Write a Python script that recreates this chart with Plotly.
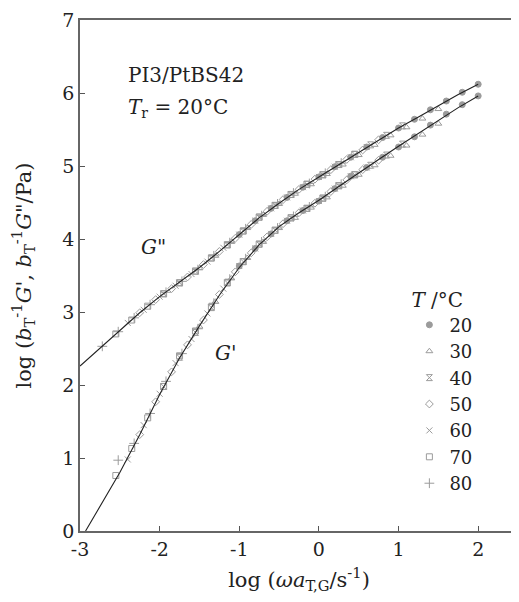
import plotly.graph_objects as go

# ---------------- data ----------------
temps = ["20", "30", "40", "50", "60", "70", "80"]

x20 = [-1.0, -0.8, -0.6, -0.4, -0.2, 0.0, 0.2, 0.4, 0.6, 0.8, 1.0, 1.2, 1.4, 1.6, 1.8, 2.0]
g2_20 = [4.06, 4.25, 4.42, 4.57, 4.71, 4.85, 4.99, 5.12, 5.26, 5.39, 5.52, 5.64, 5.77, 5.89, 6.01, 6.12]
g1_20 = [3.63, 3.87, 4.07, 4.25, 4.39, 4.52, 4.69, 4.86, 4.98, 5.12, 5.26, 5.40, 5.56, 5.71, 5.84, 5.96]

x30 = [-1.5, -1.3, -1.1, -0.9, -0.7, -0.5, -0.3, -0.1, 0.1, 0.3, 0.5, 0.7, 0.9, 1.1, 1.3, 1.5]
g2_30 = [3.60, 3.77, 3.96, 4.15, 4.33, 4.48, 4.62, 4.75, 4.89, 5.02, 5.15, 5.29, 5.42, 5.53, 5.65, 5.78]
g1_30 = [2.80, 3.14, 3.46, 3.74, 3.96, 4.15, 4.29, 4.43, 4.57, 4.73, 4.88, 5.01, 5.14, 5.28, 5.43, 5.58]

x40 = [-1.95, -1.75, -1.55, -1.35, -1.15, -0.95, -0.75, -0.55, -0.35, -0.15, 0.05, 0.25, 0.45, 0.65, 0.85, 1.05]
g2_40 = [3.25, 3.40, 3.56, 3.74, 3.92, 4.11, 4.30, 4.46, 4.61, 4.75, 4.88, 5.02, 5.16, 5.29, 5.42, 5.55]
g1_40 = [1.98, 2.38, 2.72, 3.06, 3.40, 3.69, 3.93, 4.12, 4.29, 4.42, 4.56, 4.73, 4.88, 5.01, 5.15, 5.30]

x50 = [-2.25, -2.05, -1.85, -1.65, -1.45, -1.25, -1.05, -0.85, -0.65, -0.45, -0.25, -0.05, 0.15, 0.35, 0.55, 0.75]
g2_50 = [2.99, 3.17, 3.32, 3.48, 3.65, 3.83, 4.01, 4.20, 4.38, 4.54, 4.68, 4.82, 4.95, 5.09, 5.22, 5.36]
g1_50 = [1.32, 1.77, 2.18, 2.55, 2.89, 3.24, 3.55, 3.81, 4.03, 4.21, 4.36, 4.49, 4.65, 4.81, 4.95, 5.08]

x60 = [-2.4, -2.2, -2.0, -1.8, -1.6, -1.4, -1.2, -1.0, -0.8, -0.6, -0.4, -0.2, 0.0, 0.2, 0.4, 0.6]
g2_60 = [2.85, 3.03, 3.21, 3.36, 3.52, 3.69, 3.88, 4.06, 4.25, 4.42, 4.57, 4.71, 4.85, 4.99, 5.12, 5.26]
g1_60 = [0.98, 1.45, 1.88, 2.30, 2.63, 2.98, 3.32, 3.63, 3.87, 4.07, 4.25, 4.39, 4.52, 4.69, 4.86, 4.98]

x70 = [-2.55, -2.35, -2.15, -1.95, -1.75, -1.55, -1.35, -1.15, -0.95, -0.75, -0.55, -0.35, -0.15, 0.05, 0.25, 0.45]
g2_70 = [2.70, 2.89, 3.08, 3.25, 3.40, 3.56, 3.74, 3.92, 4.11, 4.30, 4.46, 4.61, 4.75, 4.88, 5.02, 5.16]
g1_70 = [0.76, 1.13, 1.55, 1.98, 2.40, 2.74, 3.07, 3.40, 3.69, 3.93, 4.12, 4.29, 4.42, 4.56, 4.73, 4.88]

x80 = [-2.72, -2.52, -2.32, -2.12, -1.92, -1.72, -1.52, -1.32, -1.12, -0.92, -0.72, -0.52, -0.32, -0.12, 0.08, 0.28]
g2_80 = [2.53, 2.73, 2.92, 3.10, 3.27, 3.42, 3.58, 3.77, 3.95, 4.14, 4.32, 4.48, 4.63, 4.76, 4.90, 5.04]
g1_80 = [None, 0.97, 1.20, 1.61, 2.05, 2.43, 2.77, 3.12, 3.45, 3.73, 3.96, 4.15, 4.31, 4.44, 4.58, 4.75]

# master-curve fit lines
fit2_x = [-3.0, -2.75, -2.5, -2.25, -2.0, -1.75, -1.5, -1.25, -1.0, -0.75, -0.5, -0.25, 0.0,
          0.25, 0.5, 0.75, 1.0, 1.25, 1.5, 1.75, 2.0]
fit2_y = [2.26, 2.50, 2.75, 2.99, 3.21, 3.41, 3.61, 3.83, 4.06, 4.29, 4.49, 4.68, 4.85,
          5.02, 5.19, 5.36, 5.52, 5.67, 5.83, 5.98, 6.12]
fit1_x = [-2.93, -2.75, -2.5, -2.25, -2.0, -1.75, -1.5, -1.25, -1.0, -0.75, -0.5, -0.25, 0.0,
          0.25, 0.5, 0.75, 1.0, 1.25, 1.5, 1.75, 2.0]
fit1_y = [0.00, 0.33, 0.80, 1.32, 1.87, 2.37, 2.81, 3.23, 3.61, 3.92, 4.17, 4.36, 4.53,
          4.72, 4.91, 5.09, 5.27, 5.45, 5.63, 5.80, 5.96]

xticks = [-3, -2, -1, 0, 1, 2]
xticklabels = ["-3", "-2", "-1", "0", "1", "2"]
yticks = [0, 1, 2, 3, 4, 5, 6, 7]

# ---------------- figure ----------------
FONT = "DejaVu Serif, Liberation Serif, serif"
GRAY = "#9b9b9b"
symbols = ["circle", "triangle-up-open", "hourglass-open", "diamond-open",
           "x-thin-open", "square-open", "cross-thin-open"]
sizes = [6, 6, 6, 6, 6, 6, 7]
series = [(x20, g1_20, g2_20), (x30, g1_30, g2_30), (x40, g1_40, g2_40),
          (x50, g1_50, g2_50), (x60, g1_60, g2_60), (x70, g1_70, g2_70),
          (x80, g1_80, g2_80)]

fig = go.Figure()

for i, (t, (xs, g1, g2)) in enumerate(zip(temps, series)):
    mk = dict(symbol=symbols[i], size=sizes[i], color=GRAY,
              line=dict(color=GRAY, width=1))
    fig.add_trace(go.Scatter(x=xs, y=g2, mode="markers", marker=mk, name=t,
                             legendgroup=t, showlegend=True))
    fig.add_trace(go.Scatter(x=xs, y=g1, mode="markers", marker=mk, name=t,
                             legendgroup=t, showlegend=False))

fig.add_trace(go.Scatter(x=fit2_x, y=fit2_y, mode="lines", line=dict(color="#222", width=1.1),
                         showlegend=False))
fig.add_trace(go.Scatter(x=fit1_x, y=fit1_y, mode="lines", line=dict(color="#222", width=1.1),
                         showlegend=False))

axis_common = dict(showgrid=False, zeroline=False, ticks="inside", ticklen=5,
                   tickcolor="#555", showline=True, linecolor="#666", linewidth=1.5,
                   mirror=True, automargin=False, ticklabeloverflow="allow",
                   tickfont=dict(family=FONT, size=19, color="#222"))

fig.update_xaxes(range=[-3, 2.5], tickvals=xticks, ticktext=xticklabels,
                 title=dict(text="log (<i>ωa</i><sub>T,G</sub>/s<sup>-1</sup>)",
                            font=dict(family=FONT, size=21, color="#222"), standoff=16),
                 **axis_common)
fig.update_yaxes(range=[0, 7], tickvals=yticks,
                 title=dict(text="log (<i>b</i><sub>T</sub><sup>-1</sup><i>G</i>', "
                                 "<i>b</i><sub>T</sub><sup>-1</sup><i>G</i>\"/Pa)",
                            font=dict(family=FONT, size=21, color="#222"), standoff=30),
                 **axis_common)

txt = dict(family=FONT, size=20, color="#222")
fig.add_annotation(text="PI3/PtBS42", xref="paper", yref="paper", x=0.105, y=0.893,
                   xanchor="left", yanchor="middle", showarrow=False, font=txt)
fig.add_annotation(text="<i>T</i><sub>r</sub> = 20°C", xref="paper", yref="paper",
                   x=0.105, y=0.827, xanchor="left", yanchor="middle", showarrow=False, font=txt)
fig.add_annotation(text="<i>G</i>\"", xref="paper", yref="paper", x=0.167, y=0.555,
                   xanchor="center", yanchor="middle", showarrow=False, font=txt)
fig.add_annotation(text="<i>G</i>'", xref="paper", yref="paper", x=0.332, y=0.348,
                   xanchor="center", yanchor="middle", showarrow=False, font=txt)

# page body keeps its default 8px margin, so the figure is sized to fit the 519x602 window
fig.update_layout(
    width=511, height=586,
    margin=dict(l=72, r=1, t=12, b=63),
    paper_bgcolor="white", plot_bgcolor="white",
    font=dict(family=FONT, color="#222"),
    legend=dict(x=0.752, y=0.49, xanchor="left", yanchor="top",
                bgcolor="rgba(0,0,0,0)", itemwidth=30,
                font=dict(family=FONT, size=18, color="#222"),
                title=dict(text="<i>T</i> /°C", font=dict(family=FONT, size=20, color="#222")),
                tracegroupgap=0),
)

fig.write_html("out.html")
